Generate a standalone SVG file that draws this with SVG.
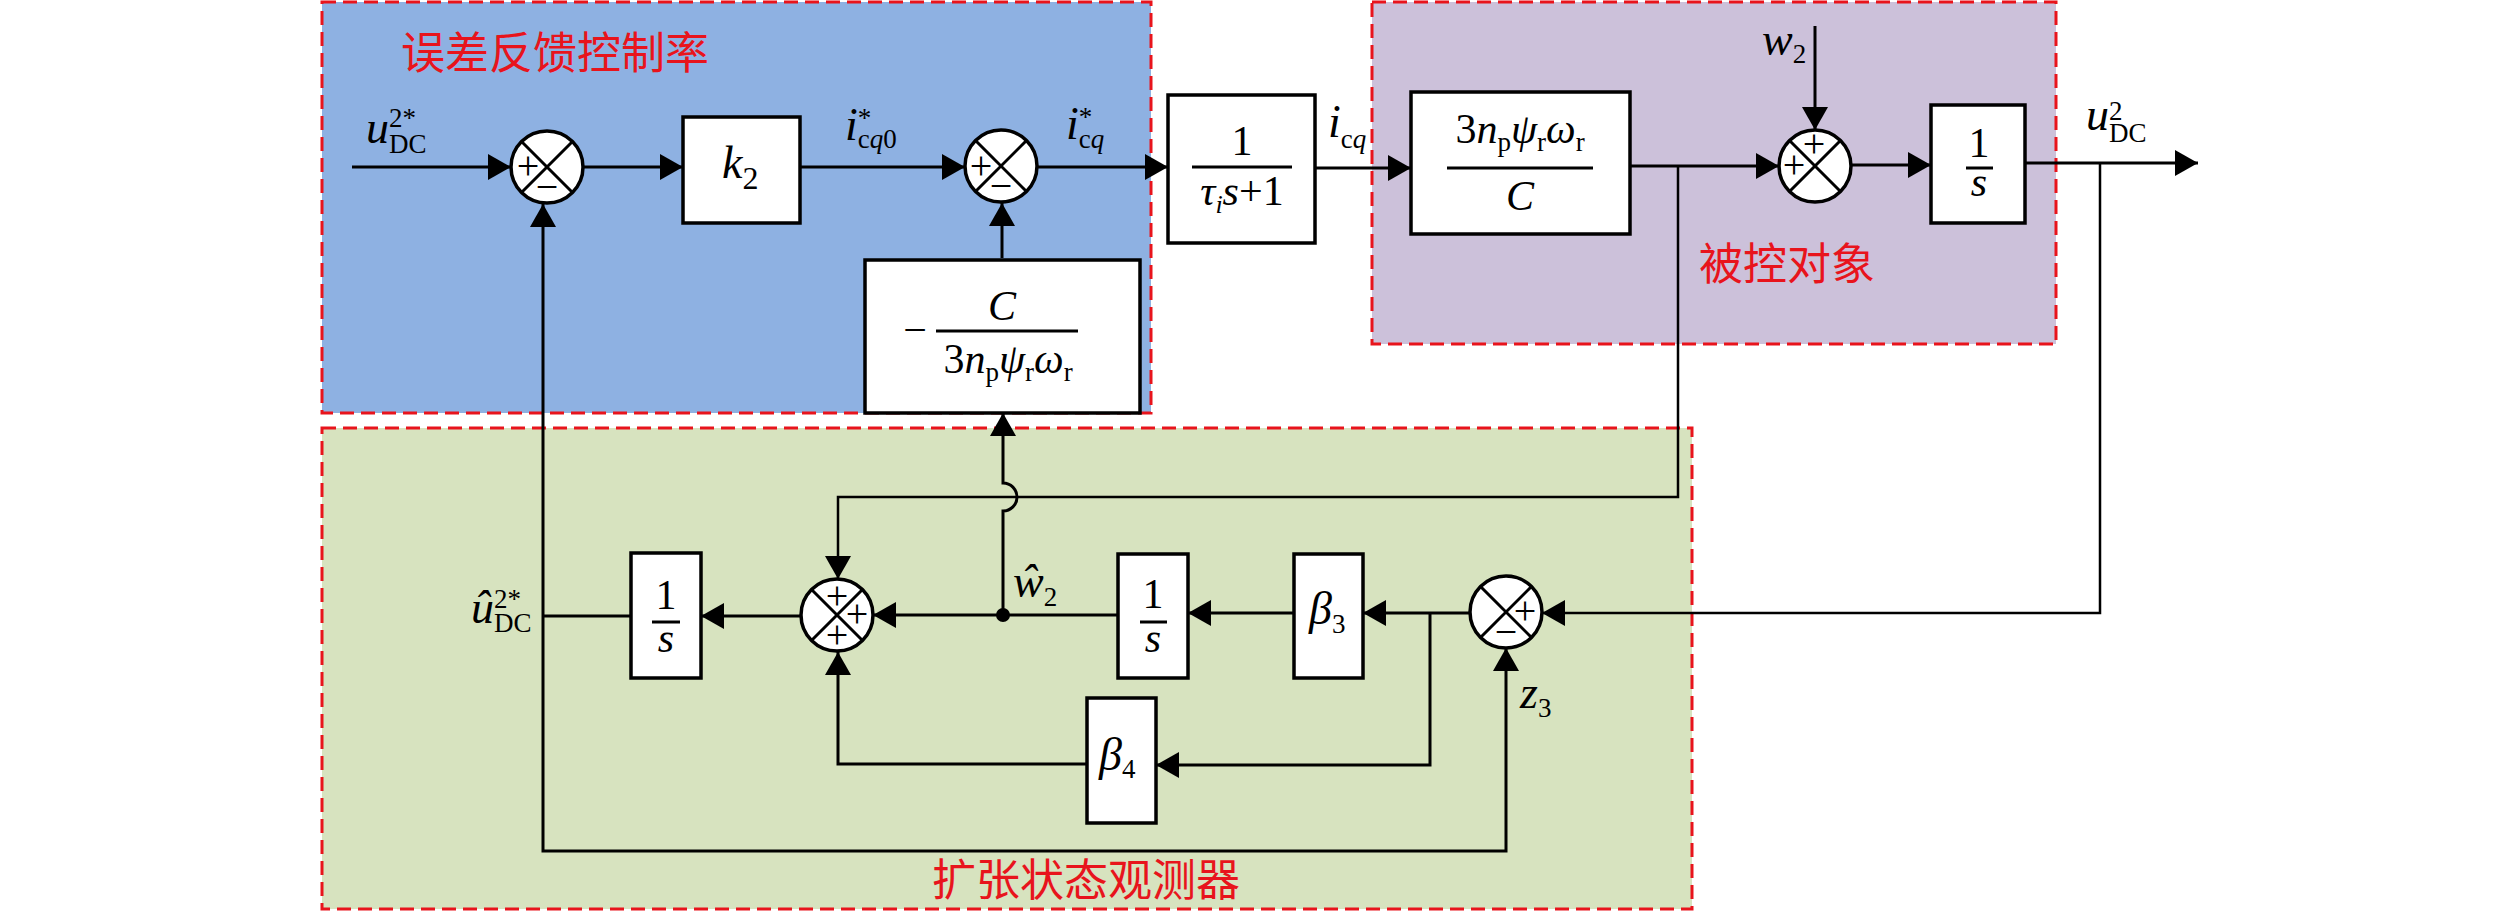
<svg xmlns="http://www.w3.org/2000/svg" width="2520" height="913" viewBox="0 0 2520 913">
<defs>
<style>
.ln{stroke:#000;stroke-width:3;fill:none}
.th{stroke:#000;stroke-width:2.5;fill:none}
.box{fill:#fff;stroke:#000;stroke-width:3.5}
.sc{fill:#fff;stroke:#000;stroke-width:3.5}
.sx{stroke:#000;stroke-width:3}
.fl{stroke:#000;stroke-width:3}
.reg{stroke:#E8141C;stroke-width:3;stroke-dasharray:14 7}
.m{font-family:"Liberation Serif","Times New Roman",serif;font-size:46px;font-style:italic;fill:#000}
.b{font-family:"Liberation Serif","Times New Roman",serif;font-size:42px;fill:#000}
.s{font-family:"Liberation Serif","Times New Roman",serif;font-size:27px;fill:#000}
.sg{font-family:"Liberation Serif","Times New Roman",serif;font-size:40px;fill:#000;text-anchor:middle}
.i{font-style:italic}
.n{font-style:normal;font-size:27px}
.cn{font-family:"Noto Sans CJK SC","Noto Sans CJK TC",sans-serif;font-size:44px;fill:#E8141C}
</style>
<marker id="ar" markerUnits="userSpaceOnUse" markerWidth="23" markerHeight="26" refX="23" refY="13" orient="auto" viewBox="0 0 23 26">
<path d="M0,0 L23,13 L0,26 Z" fill="#000"/>
</marker>
</defs>
<rect width="2520" height="913" fill="#fff"/>

<g id="region-controller">
<rect class="reg" x="322" y="2" width="829" height="411" fill="#8EB1E2"/>
<text class="cn" x="401" y="69">误差反馈控制率</text>
</g>
<g id="region-plant">
<rect class="reg" x="1372" y="2" width="684" height="342" fill="#CCC1DA"/>
<text class="cn" x="1699" y="280">被控对象</text>
</g>
<g id="region-eso">
<rect class="reg" x="322" y="428" width="1370" height="481" fill="#D7E3BF"/>
<text class="cn" x="932" y="896">扩张状态观测器</text>
</g>

<g id="connectors">
<line class="ln" x1="352" y1="167" x2="511" y2="167" marker-end="url(#ar)"/>
<line class="ln" x1="583" y1="167" x2="683" y2="167" marker-end="url(#ar)"/>
<line class="ln" x1="800" y1="167" x2="965" y2="167" marker-end="url(#ar)"/>
<line class="ln" x1="1037" y1="167" x2="1168" y2="167" marker-end="url(#ar)"/>
<line class="ln" x1="1315" y1="168" x2="1411" y2="168" marker-end="url(#ar)"/>
<line class="ln" x1="1630" y1="166" x2="1779" y2="166" marker-end="url(#ar)"/>
<line class="ln" x1="1815" y1="26" x2="1815" y2="130" marker-end="url(#ar)"/>
<line class="ln" x1="1851" y1="165" x2="1931" y2="165" marker-end="url(#ar)"/>
<line class="ln" x1="2025" y1="163" x2="2198" y2="163" marker-end="url(#ar)"/>
<path class="th" d="M2100,163 L2100,613 L1542,613" marker-end="url(#ar)"/>
<path class="th" d="M1678,166 L1678,497 L838,497 L838,579" marker-end="url(#ar)"/>
<line class="ln" x1="1470" y1="613" x2="1363" y2="613" marker-end="url(#ar)"/>
<line class="ln" x1="1294" y1="613" x2="1188" y2="613" marker-end="url(#ar)"/>
<line class="ln" x1="1118" y1="615" x2="873" y2="615" marker-end="url(#ar)"/>
<path class="ln" d="M1430,613 L1430,765 L1156,765" marker-end="url(#ar)"/>
<path class="ln" d="M1087,764 L838,764 L838,652" marker-end="url(#ar)"/>
<line class="ln" x1="801" y1="616" x2="701" y2="616" marker-end="url(#ar)"/>
<line class="ln" x1="631" y1="616" x2="543" y2="616"/>
<line class="ln" x1="543" y1="616" x2="543" y2="204" marker-end="url(#ar)"/>
<path class="ln" d="M543,616 L543,851 L1506,851 L1506,648" marker-end="url(#ar)"/>
<path class="ln" d="M1003,615 L1003,511 A14,14 0 0,0 1003,483 L1003,413" marker-end="url(#ar)"/>
<line class="ln" x1="1002" y1="258" x2="1002" y2="203" marker-end="url(#ar)"/>
<circle cx="1003" cy="615" r="7" fill="#000"/>
</g>

<g id="sum1">
<circle class="sc" cx="547" cy="167" r="36"/>
<line class="sx" x1="521.5" y1="141.5" x2="572.5" y2="192.5"/>
<line class="sx" x1="572.5" y1="141.5" x2="521.5" y2="192.5"/>
<text class="sg" x="528" y="179">+</text>
<text class="sg" x="547" y="200">−</text>
</g>
<g id="sum2">
<circle class="sc" cx="1001" cy="166" r="36"/>
<line class="sx" x1="975.5" y1="140.5" x2="1026.5" y2="191.5"/>
<line class="sx" x1="1026.5" y1="140.5" x2="975.5" y2="191.5"/>
<text class="sg" x="981" y="179">+</text>
<text class="sg" x="1001" y="199">−</text>
</g>
<g id="sum3">
<circle class="sc" cx="1815" cy="166" r="36"/>
<line class="sx" x1="1789.5" y1="140.5" x2="1840.5" y2="191.5"/>
<line class="sx" x1="1840.5" y1="140.5" x2="1789.5" y2="191.5"/>
<text class="sg" x="1794" y="178">+</text>
<text class="sg" x="1814" y="157">+</text>
</g>
<g id="sum4">
<circle class="sc" cx="837" cy="615" r="36"/>
<line class="sx" x1="811.5" y1="589.5" x2="862.5" y2="640.5"/>
<line class="sx" x1="862.5" y1="589.5" x2="811.5" y2="640.5"/>
<text class="sg" x="837" y="609">+</text>
<text class="sg" x="857" y="627">+</text>
<text class="sg" x="837" y="648">+</text>
</g>
<g id="sum5">
<circle class="sc" cx="1506" cy="612" r="36"/>
<line class="sx" x1="1480.5" y1="586.5" x2="1531.5" y2="637.5"/>
<line class="sx" x1="1531.5" y1="586.5" x2="1480.5" y2="637.5"/>
<text class="sg" x="1525" y="624">+</text>
<text class="sg" x="1506" y="645">−</text>
</g>

<g id="k2">
<rect class="box" x="683" y="117" width="117" height="106"/>
<text class="m" x="722" y="178">k<tspan class="n" style="font-size:32px" dy="11">2</tspan></text>
</g>
<g id="lag">
<rect class="box" x="1168" y="95" width="147" height="148"/>
<text class="b" x="1242" y="155" text-anchor="middle">1</text>
<line class="fl" x1="1192" y1="167" x2="1292" y2="167"/>
<text class="b" x="1242" y="205" text-anchor="middle"><tspan class="i">τ</tspan><tspan class="i" font-size="26" dy="8">i</tspan><tspan class="i" dy="-8">s</tspan>+1</text>
</g>
<g id="gain">
<rect class="box" x="1411" y="92" width="219" height="142"/>
<text class="b" x="1520" y="143" text-anchor="middle">3<tspan class="i">n</tspan><tspan font-size="27" dy="8">p</tspan><tspan class="i" dy="-8">ψ</tspan><tspan font-size="27" dy="8">r</tspan><tspan class="i" dy="-8">ω</tspan><tspan font-size="27" dy="8">r</tspan></text>
<line class="fl" x1="1447" y1="168" x2="1593" y2="168"/>
<text class="b i" x="1520" y="210" text-anchor="middle">C</text>
</g>
<g id="int1">
<rect class="box" x="1931" y="105" width="94" height="118"/>
<text class="b" x="1979" y="157" text-anchor="middle">1</text>
<line class="fl" x1="1966" y1="168" x2="1993" y2="168"/>
<text class="b i" x="1979" y="196" text-anchor="middle">s</text>
</g>
<g id="invgain">
<rect class="box" x="865" y="260" width="275" height="153"/>
<text class="b" x="915" y="344" text-anchor="middle">−</text>
<text class="b i" x="1002" y="320" text-anchor="middle">C</text>
<line class="fl" x1="936" y1="331" x2="1078" y2="331"/>
<text class="b" x="1008" y="373" text-anchor="middle">3<tspan class="i">n</tspan><tspan font-size="27" dy="8">p</tspan><tspan class="i" dy="-8">ψ</tspan><tspan font-size="27" dy="8">r</tspan><tspan class="i" dy="-8">ω</tspan><tspan font-size="27" dy="8">r</tspan></text>
</g>
<g id="int-left">
<rect class="box" x="631" y="553" width="70" height="125"/>
<text class="b" x="666" y="609" text-anchor="middle">1</text>
<line class="fl" x1="652" y1="622" x2="680" y2="622"/>
<text class="b i" x="666" y="652" text-anchor="middle">s</text>
</g>
<g id="int-mid">
<rect class="box" x="1118" y="554" width="70" height="124"/>
<text class="b" x="1153" y="608" text-anchor="middle">1</text>
<line class="fl" x1="1140" y1="622" x2="1167" y2="622"/>
<text class="b i" x="1153" y="652" text-anchor="middle">s</text>
</g>
<g id="beta3">
<rect class="box" x="1294" y="554" width="69" height="124"/>
<text class="m" x="1309" y="624">β<tspan class="n" dy="9">3</tspan></text>
</g>
<g id="beta4">
<rect class="box" x="1087" y="698" width="69" height="125"/>
<text class="m" x="1099" y="770">β<tspan class="n" dy="8">4</tspan></text>
</g>

<g id="labels">
<text class="m" x="366" y="143">u<tspan class="n" dy="-16">2*</tspan><tspan class="n" dx="-27" dy="26">DC</tspan></text>
<text class="m" x="845" y="140">i<tspan class="n" dy="-13">*</tspan><tspan class="n" dx="-13.5" dy="21">c<tspan class="i">q</tspan>0</tspan></text>
<text class="m" x="1066" y="139">i<tspan class="n" dy="-13">*</tspan><tspan class="n" dx="-13.5" dy="22">c<tspan class="i">q</tspan></tspan></text>
<text class="m" x="1328" y="137">i<tspan class="n" dy="11">c<tspan class="i">q</tspan></tspan></text>
<text class="m" x="1762" y="55">w<tspan class="n" dy="8">2</tspan></text>
<text class="m" x="2086" y="130">u<tspan class="n" dy="-10">2</tspan><tspan class="n" dx="-13.5" dy="22">DC</tspan></text>
<text class="m" x="471" y="623">û<tspan class="n" dy="-15">2*</tspan><tspan class="n" dx="-27" dy="24">DC</tspan></text>
<text class="m" x="1013" y="597">ŵ<tspan class="n" dy="9">2</tspan></text>
<text class="m" x="1520" y="708">z<tspan class="n" dy="9">3</tspan></text>
</g>
</svg>
